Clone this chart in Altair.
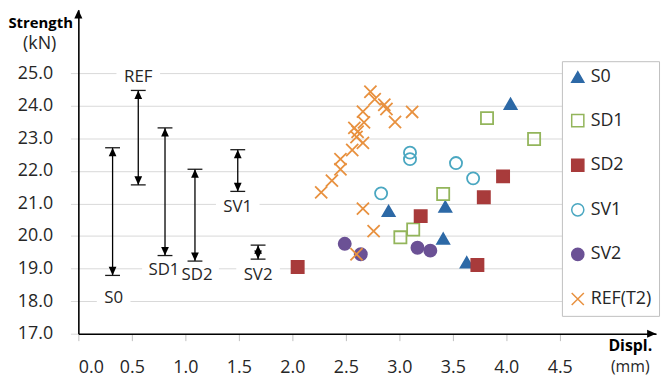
import altair as alt
import pandas as pd

# ---------------- data ----------------
series_names = ["S0", "SD1", "SD2", "SV1", "SV2", "REF(T2)"]
series_colors = ["#2d69a6", "#93b55b", "#a83b3b", "#4aa7c1", "#6b5195", "#e8913f"]

s0_x = [4.04, 2.90, 3.43, 3.41, 3.63]
s0_y = [24.06, 20.77, 20.90, 19.92, 19.19]
sd1_x = [3.82, 4.26, 3.41, 3.01, 3.13]
sd1_y = [23.62, 22.98, 21.29, 19.96, 20.20]
sd2_x = [3.97, 3.79, 3.20, 3.73, 2.05]
sd2_y = [21.83, 21.19, 20.61, 19.11, 19.05]
sv1_x = [3.10, 3.10, 3.53, 3.69, 2.83]
sv1_y = [22.56, 22.36, 22.24, 21.77, 21.31]
sv2_x = [2.49, 2.64, 3.17, 3.29]
sv2_y = [19.76, 19.44, 19.64, 19.55]
ref_x = [2.73, 2.77, 2.86, 2.88, 2.66, 3.12, 2.96, 2.67, 2.58, 2.61, 2.60, 2.66,
         2.56, 2.45, 2.45, 2.37, 2.27, 2.66, 2.76, 2.60]
ref_y = [24.43, 24.20, 24.03, 23.90, 23.82, 23.81, 23.50, 23.49, 23.32, 23.20, 23.04, 22.86,
         22.64, 22.36, 22.05, 21.70, 21.34, 20.84, 20.15, 19.44]

ann_labels = ["S0", "REF", "SD1", "SD2", "SV1", "SV2"]
ann_x = [0.32, 0.56, 0.81, 1.09, 1.49, 1.68]
ann_top = [22.71, 24.47, 23.32, 22.05, 22.65, 19.72]
ann_bottom = [18.79, 21.57, 19.40, 19.23, 21.37, 19.29]
ann_label_x = [0.33, 0.56, 0.80, 1.11, 1.49, 1.68]
ann_label_y = [18.08, 24.89, 18.96, 18.81, 20.89, 18.81]

x_ticks = [0.0, 0.5, 1.0, 1.5, 2.0, 2.5, 3.0, 3.5, 4.0, 4.5]
y_ticks = [17, 18, 19, 20, 21, 22, 23, 24, 25]
x_max = 5.4
y_min, y_max = 17.0, 26.95

W, H = 583, 327
PX_X = W / x_max            # pixels per x unit
PX_Y = H / (y_max - y_min)  # pixels per y unit

# ---------------- tables ----------------
xs = [s0_x, sd1_x, sd2_x, sv1_x, sv2_x, ref_x]
ys = [s0_y, sd1_y, sd2_y, sv1_y, sv2_y, ref_y]
rows = []
for name, sx, sy in zip(series_names, xs, ys):
    for a, b in zip(sx, sy):
        rows.append({"x": a, "y": b, "series": name})
pts = pd.DataFrame(rows)

ann = pd.DataFrame({"label": ann_labels, "x": ann_x, "top": ann_top, "bottom": ann_bottom,
                    "lx": ann_label_x, "ly": ann_label_y})
half_w = [(10 * len(s) + 14) / 2 / PX_X for s in ann_labels]
half_h = 9 / PX_Y
ann["bx1"] = ann["lx"] - half_w
ann["bx2"] = ann["lx"] + half_w
ann["by1"] = ann["ly"] - half_h
ann["by2"] = ann["ly"] + half_h
caps = pd.DataFrame({"x": ann_x + ann_x, "y": ann_top + ann_bottom})

FONT = "Open Sans"
TXT = "#262626"

xscale = alt.Scale(domain=[0, x_max], nice=False, zero=False)
yscale = alt.Scale(domain=[y_min, y_max], nice=False, zero=False)

xaxis = alt.Axis(values=x_ticks, format=".1f", title=None, grid=False,
                 domainColor="black", domainWidth=1.6, tickColor="#bfbfbf", tickSize=7,
                 labelFont=FONT, labelFontSize=18, labelColor=TXT, labelPadding=18)
yaxis = alt.Axis(values=y_ticks, format=".1f", title=None, grid=True, gridColor="#d9d9d9",
                 gridWidth=1, domainColor="black", domainWidth=1.6, tickColor="#d9d9d9",
                 tickSize=8, labelFont=FONT, labelFontSize=18, labelColor=TXT, labelPadding=18)

X = alt.X("x:Q", scale=xscale, axis=xaxis)
Y = alt.Y("y:Q", scale=yscale, axis=yaxis)

frame = alt.Chart(pts).mark_point(opacity=0).encode(x=X, y=Y)

rules = alt.Chart(ann).mark_rule(color="black", strokeWidth=1.3).encode(
    x=alt.X("x:Q", scale=xscale), y=alt.Y("top:Q", scale=yscale), y2="bottom:Q")

cap_marks = alt.Chart(caps).mark_point(shape="M-1,0L1,0", size=225, filled=False,
                                       color="#1a1a1a", strokeWidth=1.3, opacity=1).encode(
    x=alt.X("x:Q", scale=xscale), y=alt.Y("y:Q", scale=yscale))

head_up = alt.Chart(ann).mark_point(shape="M0,0L-0.45,1L0.45,1Z", size=300, filled=True,
                                    color="black", opacity=1).encode(
    x=alt.X("x:Q", scale=xscale), y=alt.Y("top:Q", scale=yscale))
head_down = alt.Chart(ann).mark_point(shape="M0,0L-0.45,-1L0.45,-1Z", size=300, filled=True,
                                      color="black", opacity=1).encode(
    x=alt.X("x:Q", scale=xscale), y=alt.Y("bottom:Q", scale=yscale))

boxes = alt.Chart(ann).mark_rect(color="white", opacity=1).encode(
    x=alt.X("bx1:Q", scale=xscale), x2="bx2:Q",
    y=alt.Y("by1:Q", scale=yscale), y2="by2:Q")

labels = alt.Chart(ann).mark_text(font=FONT, fontSize=17, color=TXT).encode(
    x=alt.X("lx:Q", scale=xscale), y=alt.Y("ly:Q", scale=yscale), text="label:N")

shapes = ["triangle-up", "square", "square", "circle", "circle", "M-1,-1L1,1M-1,1L1,-1"]
sizes = [150, 150, 110, 130, 110, 130]
fills = [series_colors[0], "transparent", series_colors[2], "transparent", series_colors[4], "transparent"]

legend = alt.Legend(title=None, orient="none", legendX=488, legendY=52,
                    labelFont=FONT, labelFontSize=18, labelColor=TXT, labelOffset=4,
                    rowPadding=25, padding=7, strokeColor="#bfbfbf", fillColor="white",
                    symbolStrokeWidth=1.5)

points = alt.Chart(pts).mark_point(strokeWidth=1.8, opacity=1).encode(
    x=alt.X("x:Q", scale=xscale), y=alt.Y("y:Q", scale=yscale),
    shape=alt.Shape("series:N", scale=alt.Scale(domain=series_names, range=shapes), legend=legend),
    stroke=alt.Stroke("series:N", scale=alt.Scale(domain=series_names, range=series_colors), legend=legend),
    fill=alt.Fill("series:N", scale=alt.Scale(domain=series_names, range=fills), legend=legend),
    size=alt.Size("series:N", scale=alt.Scale(domain=series_names, range=sizes), legend=legend),
)

one = pd.DataFrame({"k": [0]})
arrow_y = alt.Chart(one).mark_point(shape="M0,0L-0.45,1L0.45,1Z", size=324, filled=True,
                                    color="black", opacity=1).encode(
    x=alt.datum(0.0, scale=xscale), y=alt.datum(y_max, scale=yscale))
arrow_x = alt.Chart(one).mark_point(shape="M0,0L-1,-0.45L-1,0.45Z", size=324, filled=True,
                                    color="black", opacity=1).encode(
    x=alt.datum(x_max, scale=xscale), y=alt.datum(y_min, scale=yscale))

t1 = alt.Chart(one).mark_text(text="Strength", font=FONT, fontSize=15, fontWeight="bold",
                              color="black").encode(x=alt.value(-38), y=alt.value(13))
t2 = alt.Chart(one).mark_text(text="(kN)", font=FONT, fontSize=18, color=TXT).encode(
    x=alt.value(-39), y=alt.value(35))
t3 = alt.Chart(one).mark_text(text="Displ.", font=FONT, fontSize=16, fontWeight="bold",
                              color="black").encode(x=alt.value(557), y=alt.value(339))
t4 = alt.Chart(one).mark_text(text="(mm)", font=FONT, fontSize=16, color=TXT).encode(
    x=alt.value(557), y=alt.value(361))

chart = alt.layer(frame, rules, cap_marks, head_up, head_down, boxes, labels, points,
                  arrow_y, arrow_x, t1, t2, t3, t4).properties(
    width=W, height=H,
    padding={"left": 71, "top": 0, "right": 6, "bottom": 42},
    autosize=alt.AutoSizeParams(type="none"),
).configure_view(stroke=None)

chart.save("out.html", embed_options={"renderer": "svg", "actions": False})
